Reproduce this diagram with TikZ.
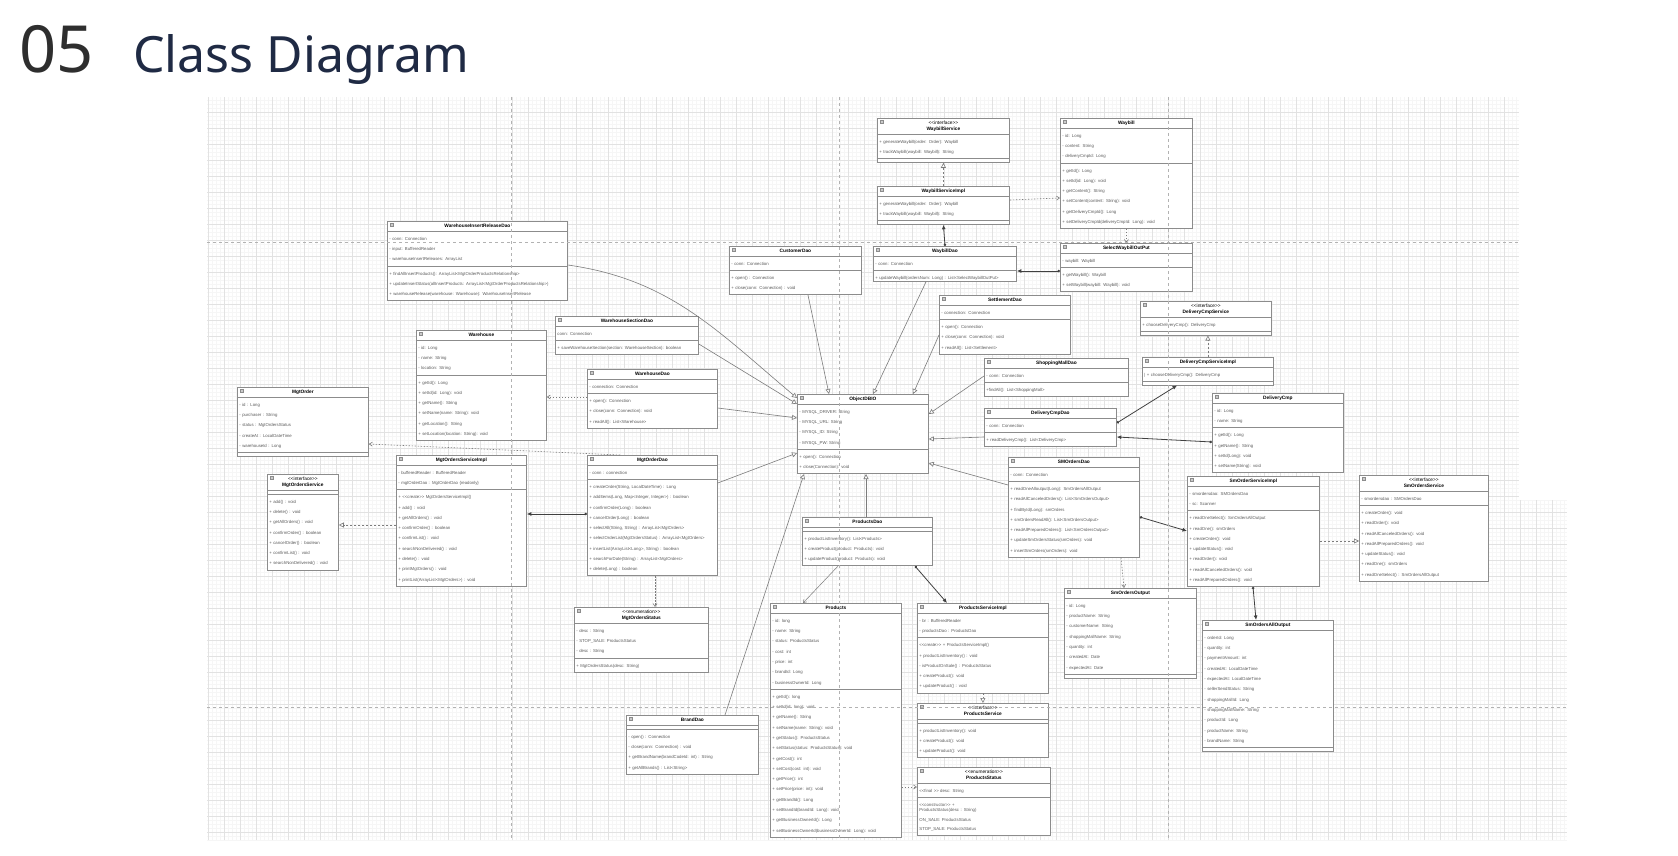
\documentclass[tikz,border=0pt]{standalone}
\usepackage{fontspec}
\setmainfont{Liberation Sans}[Ligatures=TeXOff]
\newfontfamily\titlefont{Noto Sans}
\usetikzlibrary{arrows.meta,shapes.multipart,calc}

\definecolor{gridminor}{HTML}{F6F6F6}
\definecolor{gridmajor}{HTML}{E2E2E2}
\definecolor{boxline}{HTML}{8C8C8C}
\definecolor{linkgray}{HTML}{7C7C7C}
\definecolor{membergray}{HTML}{5A5A5A}
\definecolor{titlenavy}{HTML}{1F2A44}
\definecolor{titlegray}{HTML}{2E2E2E}

% header and member rows of a class box
\newcommand{\hd}[1]{\hbox to\hsize{\hss\fontsize{4.8}{6}\selectfont\bfseries\color{black}\begin{tabular}{@{}c@{}}#1\end{tabular}\hss}}
\newcommand{\mb}[1]{\begin{tabular}{@{}l@{}}#1\end{tabular}}

\tikzset{
  classbox/.style={draw=boxline, fill=white, line width=0.8pt, rectangle split, rectangle split parts=3,
    anchor=north west, inner xsep=2pt, inner ysep=1.5pt, text width=#1, text=membergray,
    font=\fontsize{4.3}{10.3}\selectfont},
  gen/.style={draw=linkgray, line width=0.6pt, -{Triangle[open,length=5pt,width=5pt]}},
  real/.style={gen, dash pattern=on 2pt off 2pt},
  dep/.style={draw=linkgray, line width=0.6pt, dash pattern=on 1.5pt off 1.5pt, -{Straight Barb[length=3pt,width=4pt]}},
  uses/.style={draw=linkgray, line width=0.5pt, -{Straight Barb[length=3pt,width=4pt]}},
  assoc/.style={draw=black!75, line width=0.8pt, {Circle[length=2.5pt]}-{Latex[length=4.5pt,width=4pt]}},
  pagebreak/.style={draw=black!30, line width=0.5pt, dash pattern=on 3pt off 3pt}
}

\begin{document}
\begin{tikzpicture}[x=1pt, y=-1pt]
  \useasboundingbox (0,0) rectangle (1678,856);
  \fill[white] (0,0) rectangle (1678,856);

  % title
  \node[anchor=base west, inner sep=0pt, text=titlegray, font=\titlefont\fontsize{65}{70}\selectfont] (num) at (19,73) {05};
  \node[anchor=base west, inner sep=0pt, text=titlenavy, font=\titlefont\fontsize{50}{56}\selectfont] (title) at (133,73) {Class Diagram};

  % canvas grid
  \draw[gridminor, line width=0.3pt] (207,840) grid[step=4pt] (1519,97);
  \draw[gridminor, line width=0.3pt] (1519,840) grid[step=4pt] (1567,500);
  \draw[gridmajor, line width=0.5pt] (207,840) grid[step=16pt] (1519,97);
  \draw[gridmajor, line width=0.5pt] (1519,840) grid[step=16pt] (1567,500);

  % classes
  \node[classbox=176pt] (WhInsertReleaseDao) at (387,221) {\hd{WarehouseInsertReleaseDao}
    \nodepart{two}\mb{- conn: Connection\\- input: BufferedReader\\- warehouseInsertReleases: ArrayList}
    \nodepart{three}\mb{+ findAllInsertProducts(): ArrayList<MgtOrderProductsRelationship>\\+ updateInsertStatus(allInsertProducts: ArrayList<MgtOrderProductsRelationship>)\\+ warehouseRelease(warehouse: Warehouse): WarehouseInsertRelease}};
  \node[classbox=128pt] (CustomerDao) at (729,246) {\hd{CustomerDao}
    \nodepart{two}\mb{- conn: Connection}
    \nodepart{three}\mb{+ open() : Connection\\+ close(conn: Connection) : void}};
  \node[classbox=128pt] (WaybillService) at (877,118) {\hd{\mdseries <<interface>>\\WaybillService}
    \nodepart{two}\mb{+ generateWaybill(order: Order): Waybill\\+ trackWaybill(waybill: Waybill): String}
    \nodepart{three}};
  \node[classbox=128pt] (WaybillServiceImpl) at (877,186) {\hd{WaybillServiceImpl}
    \nodepart{two}\mb{+ generateWaybill(order: Order): Waybill\\+ trackWaybill(waybill: Waybill): String}
    \nodepart{three}};
  \node[classbox=139pt] (WaybillDao) at (873,246) {\hd{WaybillDao}
    \nodepart{two}\mb{- conn: Connection}
    \nodepart{three}\mb{+ updateWaybill(ordersNum: Long) : List<SelectWaybillOutPut>\\[-3pt]}};
  \node[classbox=128pt] (Waybill) at (1060,118) {\hd{Waybill}
    \nodepart{two}\mb{- id: Long\\- content: String\\- deliveryCmpId: Long}
    \nodepart{three}\mb{+ getId(): Long\\+ setId(id: Long): void\\+ getContent(): String\\+ setContent(content: String): void\\+ getDeliveryCmpId(): Long\\+ setDeliveryCmpId(deliveryCmpId: Long): void}};
  \node[classbox=128pt] (SelectWaybillOutPut) at (1060,243) {\hd{SelectWaybillOutPut}
    \nodepart{two}\mb{- waybill: Waybill}
    \nodepart{three}\mb{+ getWaybill(): Waybill\\+ setWaybill(waybill: Waybill): void}};
  \node[classbox=127pt] (SettlementDao) at (939,295) {\hd{SettlementDao}
    \nodepart{two}\mb{- connection: Connection}
    \nodepart{three}\mb{+ open(): Connection\\+ close(conn: Connection): void\\+ readAll(): List<Settlement>}};
  \node[classbox=139pt] (WhSectionDao) at (555,316) {\hd{WarehouseSectionDao}
    \nodepart{two}\mb{conn: Connection}
    \nodepart{three}\mb{+ saveWarehouseSection(section: WarehouseSection): boolean}};
  \node[classbox=126pt] (Warehouse) at (416,330) {\hd{Warehouse}
    \nodepart{two}\mb{- id: Long\\- name: String\\- location: String}
    \nodepart{three}\mb{+ getId(): Long\\+ setId(id: Long): void\\+ getName(): String\\+ setName(name: String): void\\+ getLocation(): String\\+ setLocation(location: String): void}};
  \node[classbox=126pt] (WarehouseDao) at (587,369) {\hd{WarehouseDao}
    \nodepart{two}\mb{- connection: Connection}
    \nodepart{three}\mb{+ open(): Connection\\+ close(conn: Connection): void\\+ readAll(): List<Warehouse>}};
  \node[classbox=127pt] (MgtOrder) at (237,387) {\hd{MgtOrder}
    \nodepart{two}\mb{- id : Long\\- purchaser : String\\- status : MgtOrdersStatus\\- createAt : LocalDateTime\\- warehouseId : Long}
    \nodepart{three}};
  \node[classbox=67pt] (MgtOrdersService) at (267,474) {\hd{\mdseries <<interface>>\\MgtOrdersService}
    \nodepart{two}
    \nodepart{three}\mb{+ add() : void\\+ delete() : void\\+ getAllOrders() : void\\+ confirmOrder() : boolean\\+ cancelOrder() : boolean\\+ confirmList() : void\\+ searchNonDelivered() : void}};
  \node[classbox=126pt] (MgtOrdersServiceImpl) at (396,455) {\hd{MgtOrdersServiceImpl}
    \nodepart{two}\mb{- bufferedReader : BufferedReader\\- mgtOrderDao : MgtOrderDao \{readonly\}}
    \nodepart{three}\mb{+ <<create>> MgtOrdersServiceImpl()\\+ add() : void\\+ getAllOrders() : void\\+ confirmOrder() : boolean\\+ confirmList() : void\\+ searchNonDelivered() : void\\+ delete() : void\\+ printMgtOrders() : void\\+ printList(ArrayList<MgtOrders>) : void}};
  \node[classbox=126pt] (MgtOrderDao) at (587,455) {\hd{MgtOrderDao}
    \nodepart{two}\mb{- conn : connection}
    \nodepart{three}\mb{+ createOrder(String, LocalDateTime) : Long\\+ addItems(Long, Map<Integer, Integer>) : boolean\\+ confirmOrder(Long) : boolean\\+ cancelOrder(Long) : boolean\\+ selectAll(String, String) : ArrayList<MgtOrders>\\+ selectOrderList(MgtOrdersStatus) : ArrayList<MgtOrders>\\+ insertList(ArrayList<Long>, String) : boolean\\+ searchForDate(String) : ArrayList<MgtOrders>\\+ delete(Long) : boolean}};
  \node[classbox=127pt] (ObjectDBIO) at (797,394) {\hd{ObjectDBIO}
    \nodepart{two}\mb{- MYSQL\_DRIVER: String\\- MYSQL\_URL: String\\- MYSQL\_ID: String\\- MYSQL\_PW: String}
    \nodepart{three}\mb{+ open(): Connection\\+ close(Connection): void}};
  \node[classbox=140pt] (ShoppingMallDao) at (984,358) {\hd{ShoppingMallDao}
    \nodepart{two}\mb{- conn: Connection}
    \nodepart{three}\mb{+findAll(): List<ShoppingMall>}};
  \node[classbox=128pt] (DeliveryCmpDao) at (984,408) {\hd{DeliveryCmpDao}
    \nodepart{two}\mb{- conn: Connection}
    \nodepart{three}\mb{+ readDeliveryCmp(): List<DeliveryCmp>}};
  \node[classbox=127pt] (DeliveryCmpService) at (1140,301) {\hd{\mdseries <<interface>>\\DeliveryCmpService}
    \nodepart{two}\mb{+ chooseDeliveryCmp(): DeliveryCmp}
    \nodepart{three}};
  \node[classbox=127pt] (DeliveryCmpServiceImpl) at (1142,357) {\hd{DeliveryCmpServiceImpl}
    \nodepart{two}\mb{| + chooseDeliveryCmp(): DeliveryCmp}
    \nodepart{three}};
  \node[classbox=127pt] (DeliveryCmp) at (1212,393) {\hd{DeliveryCmp}
    \nodepart{two}\mb{- id: Long\\- name: String}
    \nodepart{three}\mb{+ getId(): Long\\+ getName(): String\\+ setId(Long): void\\+ setName(String): void}};
  \node[classbox=127pt] (SMOrdersDao) at (1008,457) {\hd{SMOrdersDao}
    \nodepart{two}\mb{- conn: Connection}
    \nodepart{three}\mb{+ readOneAlloutput(Long): SmOrdersAllOutput\\+ readAllCanceledOrders(): List<SmOrdersOutput>\\+ findById(Long): smOrders\\+ smOrdersReadAll(): List<SmOrdersOutput>\\+ readAllPreparedOrders(): List<SmOrdersOutput>\\+ updateSmOrdersStatus(smOrders): void\\+ insertSmOrders(smOrders): void}};
  \node[classbox=128pt] (SmOrderServiceImpl) at (1187,476) {\hd{SmOrderServiceImpl}
    \nodepart{two}\mb{- smordersdao: SMOrdersDao\\- sc: Scanner}
    \nodepart{three}\mb{+ readOneSelect(): SmOrdersAllOutput\\+ readOne(): smOrders\\+ createOrder(): void\\+ updateStatus(): void\\+ readOrder(): void\\+ readAllCanceledOrders(): void\\+ readAllPreparedOrders(): void}};
  \node[classbox=125pt] (SmOrdersService) at (1359,475) {\hd{\mdseries <<interface>>\\SmOrdersService}
    \nodepart{two}\mb{- smordersdao : SMOrdersDao}
    \nodepart{three}\mb{+ createOrder(): void\\+ readOrder(): void\\+ readAllCanceledOrders(): void\\+ readAllPreparedOrders(): void\\+ updateStatus(): void\\+ readOne(): smOrders\\+ readOneSelect() : SmOrdersAllOutput}};
  \node[classbox=126pt] (ProductsDao) at (802,517) {\hd{ProductsDao}
    \nodepart{two}
    \nodepart{three}\mb{+ productListInventory(): List<Products>\\+ createProduct(product: Products): void\\+ updateProduct(product: Products): void}};
  \node[classbox=130pt] (MgtOrdersStatus) at (574,607) {\hd{\mdseries <<enumeration>>\\MgtOrdersStatus}
    \nodepart{two}\mb{- desc : String\\- STOP\_SALE: ProductsStatus\\- desc : String}
    \nodepart{three}\mb{+ MgtOrdersStatus(desc: String)}};
  \node[classbox=128pt] (BrandDao) at (626,715) {\hd{BrandDao}
    \nodepart{two}
    \nodepart{three}\mb{- open() : Connection\\- close(conn: Connection) : void\\+ getBrandName(brandCodeId: int) : String\\+ getAllBrands() : List<String>}};
  \node[classbox=127pt] (Products) at (770,603) {\hd{Products}
    \nodepart{two}\mb{- id: long\\- name: String\\- status: ProductsStatus\\- cost: int\\- price: int\\- brandId: Long\\- businessOwnerId: Long}
    \nodepart{three}\mb{+ getId(): long\\+ setId(id: long): void\\+ getName(): String\\+ setName(name: String): void\\+ getStatus(): ProductsStatus\\+ setStatus(status: ProductsStatus): void\\+ getCost(): int\\+ setCost(cost: int): void\\+ getPrice(): int\\+ setPrice(price: int): void\\+ getBrandId(): Long\\+ setBrandId(brandId: Long): void\\+ getBusinessOwnerId(): Long\\+ setBusinessOwnerId(businessOwnerId: Long): void}};
  \node[classbox=127pt] (ProductsServiceImpl) at (917,603) {\hd{ProductsServiceImpl}
    \nodepart{two}\mb{- br : BufferedReader\\- productsDao : ProductsDao}
    \nodepart{three}\mb{<<create>> + ProductsServiceImpl()\\+ productListInventory() : void\\- isProductOnSale() : ProductsStatus\\+ createProduct(): void\\+ updateProduct() : void}};
  \node[classbox=127pt] (ProductsService) at (917,703) {\hd{\mdseries <<interface>>\\ProductsService}
    \nodepart{two}
    \nodepart{three}\mb{+ productListInventory(): void\\+ createProduct(): void\\+ updateProduct(): void}};
  \node[classbox=129pt] (ProductsStatus) at (917,767) {\hd{\mdseries <<enumeration>>\\ProductsStatus}
    \nodepart{two}\mb{<<final >> desc: String}
    \nodepart{three}\mb{<<constructor>> +\\[-5pt]ProductsStatus(desc : String)\\[-1pt]ON\_SALE: ProductsStatus\\[-1pt]STOP\_SALE: ProductsStatus}};
  \node[classbox=128pt] (SmOrdersOutput) at (1064,588) {\hd{SmOrdersOutput}
    \nodepart{two}\mb{- id: Long\\- productName: String\\- customerName: String\\- shoppingMallName: String\\- quantity: int\\- createdAt: Date\\- expectedAt: Date}
    \nodepart{three}};
  \node[classbox=127pt] (SmOrdersAllOutput) at (1202,620) {\hd{SmOrdersAllOutput}
    \nodepart{two}\mb{- orderId: Long\\- quantity: int\\- paymentAmount: int\\- createdAt: LocalDateTime\\- expectedAt: LocalDateTime\\- sellerSendStatus: String\\- shoppingMallId: Long\\- shoppingMallName: String\\- productId: Long\\- productName: String\\- brandName: String}
    \nodepart{three}};

  % class icons
  \foreach \c in {WhInsertReleaseDao,CustomerDao,WaybillService,WaybillServiceImpl,WaybillDao,Waybill,
      SelectWaybillOutPut,SettlementDao,WhSectionDao,Warehouse,WarehouseDao,MgtOrder,MgtOrdersService,
      MgtOrdersServiceImpl,MgtOrderDao,ObjectDBIO,ShoppingMallDao,DeliveryCmpDao,DeliveryCmpService,
      DeliveryCmpServiceImpl,DeliveryCmp,SMOrdersDao,SmOrderServiceImpl,SmOrdersService,ProductsDao,
      MgtOrdersStatus,BrandDao,Products,ProductsServiceImpl,ProductsService,ProductsStatus,
      SmOrdersOutput,SmOrdersAllOutput}
    \draw[boxline, fill=boxline!45, line width=0.3pt] ($(\c.north west)+(3,2.5)$) rectangle +(3,3);

  % inheritance to ObjectDBIO
  \draw[gen] ($(WhInsertReleaseDao.north east)+(0,44)$) to[out=-8,in=140] ($(ObjectDBIO.north west)+(0,4)$);
  \path ($(WhSectionDao.north east)+(0,28)$) edge[gen] ($(ObjectDBIO.north west)+(0,10)$)
    ($(WarehouseDao.north east)+(0,39)$) edge[gen] ($(ObjectDBIO.north west)+(0,24)$)
    ($(MgtOrderDao.north east)+(0,28)$) edge[gen] ($(ObjectDBIO.north west)+(0,59)$)
    ($(CustomerDao.south west)+(79,0)$) edge[gen] ($(ObjectDBIO.north west)+(32,0)$)
    ($(WaybillDao.south west)+(53,0)$) edge[gen] ($(ObjectDBIO.north west)+(76,0)$)
    ($(SettlementDao.north west)+(0,40)$) edge[gen] ($(ObjectDBIO.north west)+(116,0)$)
    ($(ShoppingMallDao.north west)+(0,18)$) edge[gen] ($(ObjectDBIO.north east)+(0,20)$)
    ($(DeliveryCmpDao.north west)+(0,29)$) edge[gen] ($(ObjectDBIO.north east)+(0,45)$)
    ($(SMOrdersDao.north west)+(0,28)$) edge[gen] ($(ObjectDBIO.north east)+(0,69)$)
    ($(ProductsDao.north west)+(64,0)$) edge[gen] ($(ObjectDBIO.south west)+(69,0)$)
    ($(BrandDao.north west)+(99,0)$) edge[gen] ($(ObjectDBIO.south west)+(7,0)$);

  % interface realizations
  \path (WaybillServiceImpl.north) edge[real] (WaybillService.south)
    (DeliveryCmpServiceImpl.north) edge[real] (DeliveryCmpServiceImpl.north |- DeliveryCmpService.south)
    ($(MgtOrdersServiceImpl.north west)+(0,70)$) edge[real] ($(MgtOrdersService.north east)+(0,51)$)
    ($(SmOrderServiceImpl.north east)+(0,65)$) edge[real] ($(SmOrdersService.north west)+(0,66)$)
    (ProductsServiceImpl.south) edge[real] (ProductsService.north);

  % dependencies
  \path ($(WaybillServiceImpl.north east)+(0,14)$) edge[dep] ($(Waybill.north west)+(0,80)$)
    (Waybill.south) edge[dep] (SelectWaybillOutPut.north)
    ($(WarehouseDao.north west)+(0,28)$) edge[dep] ($(Warehouse.north east)+(0,67)$)
    ($(MgtOrderDao.north west)+(33,0)$) edge[dep] ($(MgtOrder.north east)+(0,57)$)
    ($(MgtOrderDao.south west)+(68,0)$) edge[dep] ($(MgtOrdersStatus.north west)+(81,0)$)
    ($(SMOrdersDao.south west)+(113,0)$) edge[dep] ($(SmOrdersOutput.north west)+(60,0)$)
    ($(Products.north east)+(0,184)$) edge[dep] ($(ProductsStatus.north west)+(0,20)$)
    ($(ProductsDao.south west)+(36,0)$) edge[uses] ($(Products.north west)+(33,0)$);

  % associations
  \path ($(WaybillDao.north west)+(72,0)$) edge[assoc] (WaybillServiceImpl.south)
    ($(SelectWaybillOutPut.north west)+(0,28)$) edge[assoc] ($(WaybillDao.north east)+(0,25)$)
    ($(DeliveryCmpDao.north east)+(0,15)$) edge[assoc] ($(DeliveryCmpServiceImpl.south west)+(35,0)$)
    ($(DeliveryCmp.north west)+(0,49)$) edge[assoc] ($(DeliveryCmpDao.north east)+(0,29)$)
    ($(SMOrdersDao.north east)+(0,60)$) edge[assoc] ($(SmOrderServiceImpl.north west)+(0,55)$)
    ($(MgtOrderDao.north west)+(0,59)$) edge[assoc] ($(MgtOrdersServiceImpl.north east)+(0,59)$)
    ($(ProductsDao.south west)+(113,0)$) edge[assoc] ($(ProductsServiceImpl.north west)+(30,0)$)
    ($(SmOrderServiceImpl.south west)+(66,0)$) edge[assoc] ($(SmOrdersAllOutput.north west)+(54,0)$);

  % page breaks of the canvas
  \draw[pagebreak] (511,97) -- (511,840) (839,97) -- (839,840) (1168,97) -- (1168,840);
  \draw[pagebreak] (207,242) -- (1519,242) (207,707) -- (1567,707);
\end{tikzpicture}
\end{document}
